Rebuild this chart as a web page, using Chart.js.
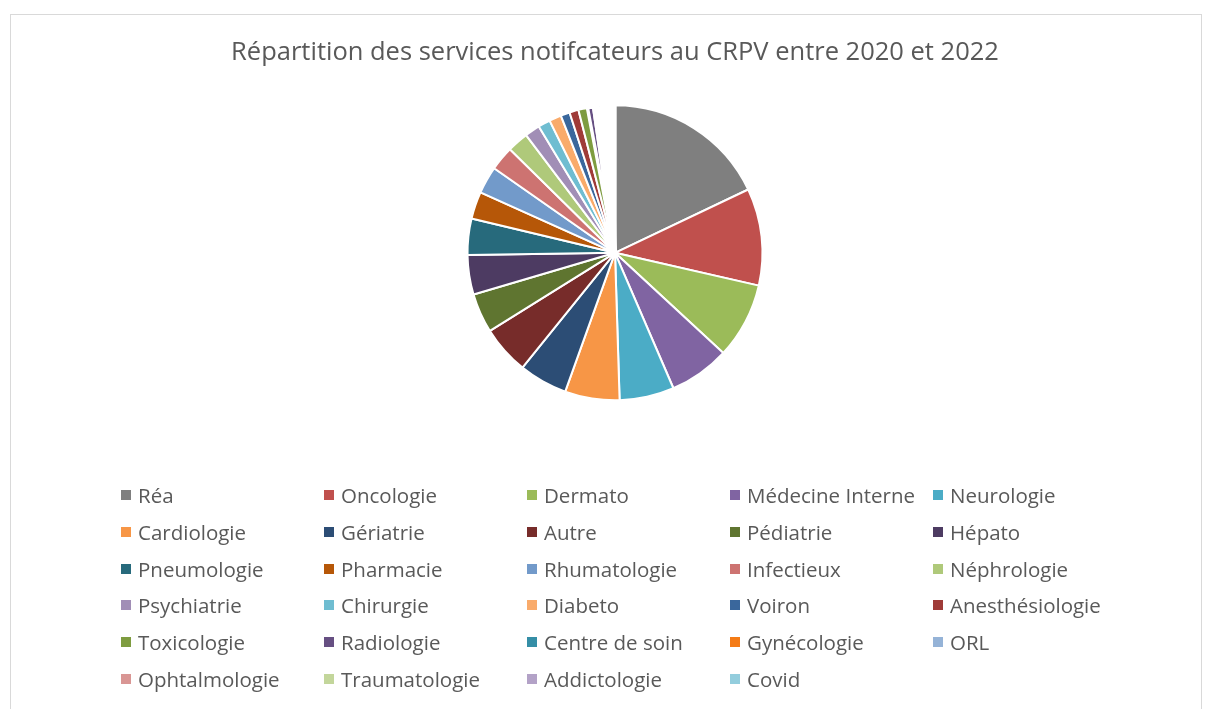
<!DOCTYPE html>
<html><head><meta charset="utf-8">
<script src="https://cdn.jsdelivr.net/npm/chart.js@4/dist/chart.umd.min.js"></script>
<style>
html,body{margin:0;padding:0;background:#fff;width:1205px;height:709px;overflow:hidden;}
#frame{position:absolute;left:10px;top:14px;width:1192px;height:720px;border:1px solid #d9d9d9;box-sizing:border-box;}
#wrap{position:absolute;left:0;top:0;width:1205px;height:709px;}
#legend{position:absolute;left:121px;top:481px;font-family:"Open Sans",sans-serif;font-size:20.5px;color:#595959;}
.item{position:absolute;white-space:nowrap;height:28px;line-height:28px;}
.box{position:absolute;left:0;top:9px;width:10px;height:10px;}
.lbl{position:absolute;left:17px;top:0;}
</style></head>
<body>
<div id="frame"></div>
<div id="wrap"><canvas id="c" width="1205" height="709"></canvas></div>
<div id="legend"></div>
<script>
const titleText = "Répartition des services notifcateurs au CRPV entre 2020 et 2022";
const categories = ["Réa","Oncologie","Dermato","Médecine Interne","Neurologie","Cardiologie","Gériatrie","Autre","Pédiatrie","Hépato","Pneumologie","Pharmacie","Rhumatologie","Infectieux","Néphrologie","Psychiatrie","Chirurgie","Diabeto","Voiron","Anesthésiologie","Toxicologie","Radiologie","Centre de soin","Gynécologie","ORL","Ophtalmologie","Traumatologie","Addictologie","Covid"];
const values = [54,32,25,20,18,18,16,16,13,13,12,9,9,8,7,5,4,4,3,3,3,2,1,1,1,1,1,1,1];
const colors = ["#7F7F7F","#C0504D","#9BBB59","#8064A2","#4BACC6","#F79646","#2C4D75","#772C2A","#5F7530","#4D3B62","#276A7C","#B65708","#729ACA","#CD7371","#AFC97A","#A18EB6","#6FBDD1","#F9AB6B","#3A679C","#9F3B38","#7E9C40","#664F82","#358EA6","#F47B16","#95B3D7","#D99694","#C3D69B","#B3A2C7","#93CDDD"];

const chart = new Chart(document.getElementById('c'), {
  type: 'pie',
  data: { labels: categories, datasets: [{
    data: values, backgroundColor: colors, borderColor: '#ffffff',
    borderWidth: values.map(v => v <= 2 ? 3.4 : 2)
  }] },
  options: {
    responsive: false, animation: false,
    layout: { padding: { top: 0, bottom: 307, left: 25, right: 0 } },
    plugins: {
      legend: { display: false },
      tooltip: { enabled: false },
      title: { display: true, text: titleText, color: '#595959',
        font: { family: 'Open Sans', size: 25.5, weight: 'normal', lineHeight: 1.2 },
        padding: { top: 37, bottom: 36 } }
    }
  }
});

const leg = document.getElementById('legend');
const colX = 203, rowY = 36.8;
categories.forEach((name, i) => {
  const col = i % 5, row = Math.floor(i / 5);
  const d = document.createElement('div');
  d.className = 'item';
  d.style.left = (col * colX) + 'px';
  d.style.top = (row * rowY) + 'px';
  d.innerHTML = '<span class="box" style="background:' + chart.data.datasets[0].backgroundColor[i] + '"></span><span class="lbl"></span>';
  d.querySelector('.lbl').textContent = name;
  leg.appendChild(d);
});
</script>
</body></html>
